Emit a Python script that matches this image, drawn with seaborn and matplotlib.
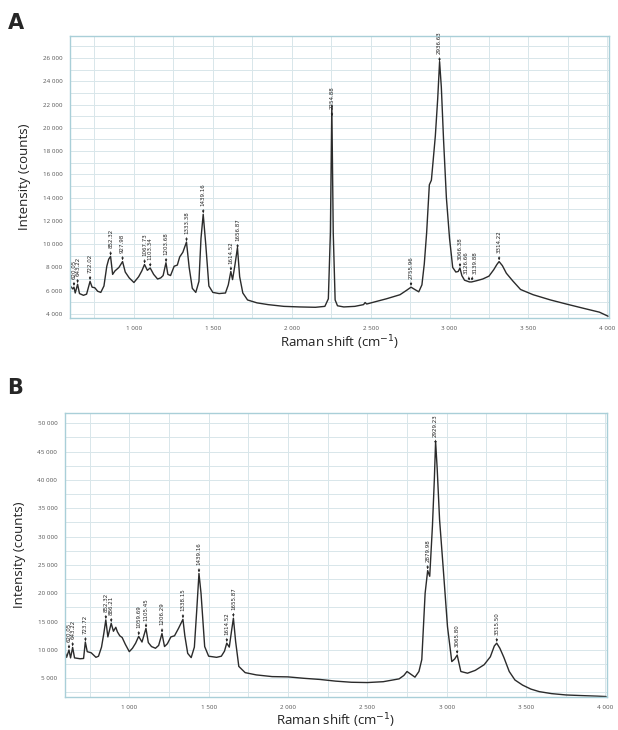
import matplotlib.pyplot as plt
import matplotlib.ticker as mticker
import seaborn as sns
import pandas as pd
import numpy as np

# spectrum A (traced)
shift_a = [597, 612, 620, 628, 643, 655, 680, 700, 722, 735, 752, 770, 790, 810, 828, 840, 852, 865, 880, 905,
           928, 945, 970, 1000, 1030, 1050, 1067, 1085, 1103, 1125, 1150, 1170, 1185, 1203, 1215, 1232, 1255, 1275,
           1290, 1310, 1333, 1350, 1370, 1392, 1412, 1425, 1439, 1455, 1475, 1500, 1540, 1580, 1598, 1614, 1625,
           1640, 1656, 1670, 1690, 1720, 1780, 1850, 1950, 2050, 2150, 2210, 2232, 2245, 2254, 2263, 2275, 2290,
           2330, 2400, 2455, 2465, 2475, 2530, 2600, 2686, 2730, 2756, 2780, 2805, 2825, 2840, 2855, 2872, 2885,
           2895, 2910, 2925, 2937, 2948, 2962, 2980, 3000, 3020, 3040, 3055, 3066, 3078, 3095, 3126, 3140, 3170,
           3210, 3250, 3280, 3300, 3314, 3335, 3360, 3400, 3450, 3530, 3640, 3740, 3850, 3950, 4005]
counts_a = [6400, 6150, 6300, 5800, 6550, 5750, 5600, 5700, 6800, 6300, 6250, 5950, 5850, 6400, 8100, 8700, 8950,
            7400, 7700, 8000, 8500, 7600, 7100, 6700, 7200, 7700, 8250, 7750, 7950, 7400, 7000, 7100, 7300, 8400,
            7400, 7300, 8100, 8200, 8900, 9300, 10180, 8000, 6200, 5850, 6800, 10500, 12570, 10000, 6400, 5850,
            5750, 5800, 6500, 7650, 6950, 8200, 9700, 7200, 5800, 5200, 4950, 4800, 4650, 4600, 4570, 4650, 5300,
            11000, 21950, 11000, 5200, 4700, 4600, 4650, 4800, 4980, 4850, 5050, 5300, 5650, 6050, 6300, 6100,
            5900, 6500, 8300, 11000, 15100, 15500, 17000, 19300, 22500, 25700, 23500, 19000, 14000, 10500, 8000,
            7600, 7650, 7950, 7300, 6900, 6750, 6750, 6850, 7000, 7250, 7800, 8250, 8500, 8150, 7500, 6850, 6100,
            5650, 5200, 4850, 4480, 4150, 3800]
peaks_a = [620.05, 643.22, 722.02, 852.32, 927.98, 1067.73, 1103.34, 1203.68, 1333.38, 1439.16, 1614.52,
           1656.87, 2254.88, 2755.96, 2936.63, 3066.38, 3126.66, 3139.88, 3314.22]

# spectrum B (traced)
shift_b = [597, 605, 620, 630, 643, 655, 690, 712, 723, 735, 760, 790, 806, 825, 840, 852, 865, 886, 900, 915,
           925, 940, 955, 975, 1000, 1020, 1040, 1059, 1080, 1105, 1120, 1140, 1165, 1185, 1206, 1222, 1240, 1262,
           1285, 1310, 1338, 1350, 1368, 1390, 1410, 1425, 1439, 1452, 1475, 1500, 1550, 1580, 1600, 1614, 1630,
           1645, 1656, 1670, 1690, 1730, 1800, 1900, 2000, 2100, 2200, 2300, 2400, 2500, 2600, 2700, 2730, 2750,
           2770, 2800, 2825, 2843, 2864, 2880, 2893, 2910, 2922, 2930, 2940, 2955, 2977, 3005, 3032, 3050, 3066,
           3089, 3131, 3180, 3236, 3275, 3300, 3315, 3335, 3360, 3394, 3430, 3478, 3530, 3583, 3660, 3752, 3850,
           3950, 4005]
counts_b = [9500, 8700, 10000, 8600, 10450, 8600, 8450, 8500, 11400, 9700, 9500, 8700, 8900, 10500, 13000, 15300,
            12300, 14700, 13300, 14000, 13200, 12500, 12200, 11000, 9700, 10300, 11200, 12400, 11400, 13800, 11300,
            10600, 10300, 10800, 12900, 10600, 11100, 12300, 12500, 13800, 15400, 12500, 9400, 8650, 10500, 17000,
            23500, 20000, 10600, 8900, 8700, 8900, 9800, 11200, 10500, 13500, 15600, 11500, 7100, 6000, 5600, 5300,
            5250, 5000, 4800, 4500, 4300, 4250, 4400, 4900, 5500, 6200, 5800, 5200, 6200, 8300, 20000, 24000,
            23000, 31800, 40000, 46800, 42000, 33000, 24800, 14100, 7950, 8400, 9100, 6200, 5900, 6400, 7400, 8800,
            10700, 11200, 10300, 8700, 6200, 4700, 3800, 3100, 2650, 2300, 2060, 1950, 1850, 1780]
peaks_b = [620.05, 643.22, 723.72, 852.32, 886.21, 1059.69, 1105.45, 1206.29, 1338.15, 1439.16, 1614.52,
           1655.87, 2879.98, 2929.23, 3065.80, 3315.50]

sns.set_style("white")
plt.rcParams['font.family'] = ['Open Sans', 'DejaVu Sans']

fig = plt.figure(figsize=(6.18, 7.30), dpi=100)
ax_a = fig.add_axes([0.1133, 0.5644, 0.872, 0.3863])
ax_b = fig.add_axes([0.1052, 0.0452, 0.877, 0.389])

frame_col = '#a9cfd8'
grid_col = '#d8e6ea'
fmt = mticker.FuncFormatter(lambda v, p: f"{v:,.0f}".replace(",", " "))


def draw_panel(ax, shift, counts, peaks, ylim, ymaj, ymin, xpad):
    df = pd.DataFrame({'shift': shift, 'counts': counts})
    sns.lineplot(data=df, x='shift', y='counts', ax=ax, color='#2b2b2b', lw=1.0, sort=False)
    ax.set_xlim(595, 4010)
    ax.set_ylim(*ylim)
    ax.xaxis.set_major_locator(mticker.MultipleLocator(500))
    ax.xaxis.set_minor_locator(mticker.MultipleLocator(250))
    ax.yaxis.set_major_locator(mticker.MultipleLocator(ymaj))
    ax.yaxis.set_minor_locator(mticker.MultipleLocator(ymin))
    ax.xaxis.set_major_formatter(fmt)
    ax.yaxis.set_major_formatter(fmt)
    ax.grid(True, which='both', color=grid_col, lw=0.7)
    ax.set_axisbelow(True)
    ax.tick_params(which='both', labelsize=4.5, labelcolor='#555555', color=frame_col, length=2, width=0.6)
    for s in ax.spines.values():
        s.set_color(frame_col)
        s.set_linewidth(1.0)
    ax.set_xlabel(r'Raman shift (cm$^{-1}$)', fontsize=9.5, color='#222222', labelpad=xpad)
    ax.set_ylabel('Intensity (counts)', fontsize=9.5, color='#222222', labelpad=8)
    for i, p in enumerate(peaks):
        yv = np.interp(p, shift, counts)
        # nudge the two crowded labels near 3130 apart
        dx = 0
        if 3120 < p < 3130:
            dx = -2.2
        elif 3135 < p < 3145:
            dx = 2.2
        ax.annotate(f"{p:.2f}", xy=(p, yv), xytext=(dx, 6), textcoords='offset points',
                    rotation=90, ha='center', va='bottom', fontsize=4, color='#222222',
                    family='DejaVu Sans',
                    arrowprops=dict(arrowstyle='-|>', lw=0.5, color='#222222', mutation_scale=3,
                                    shrinkA=0, shrinkB=1))


draw_panel(ax_a, shift_a, counts_a, peaks_a, (3650, 27900), 2000, 1000, 2)
draw_panel(ax_b, shift_b, counts_b, peaks_b, (1700, 51800), 5000, 2500, 1)

fig.text(0.012, 0.982, 'A', fontsize=15, fontweight='bold', va='top', family='DejaVu Sans')
fig.text(0.012, 0.482, 'B', fontsize=15, fontweight='bold', va='top', family='DejaVu Sans')

fig.savefig('out.png', dpi=100)
